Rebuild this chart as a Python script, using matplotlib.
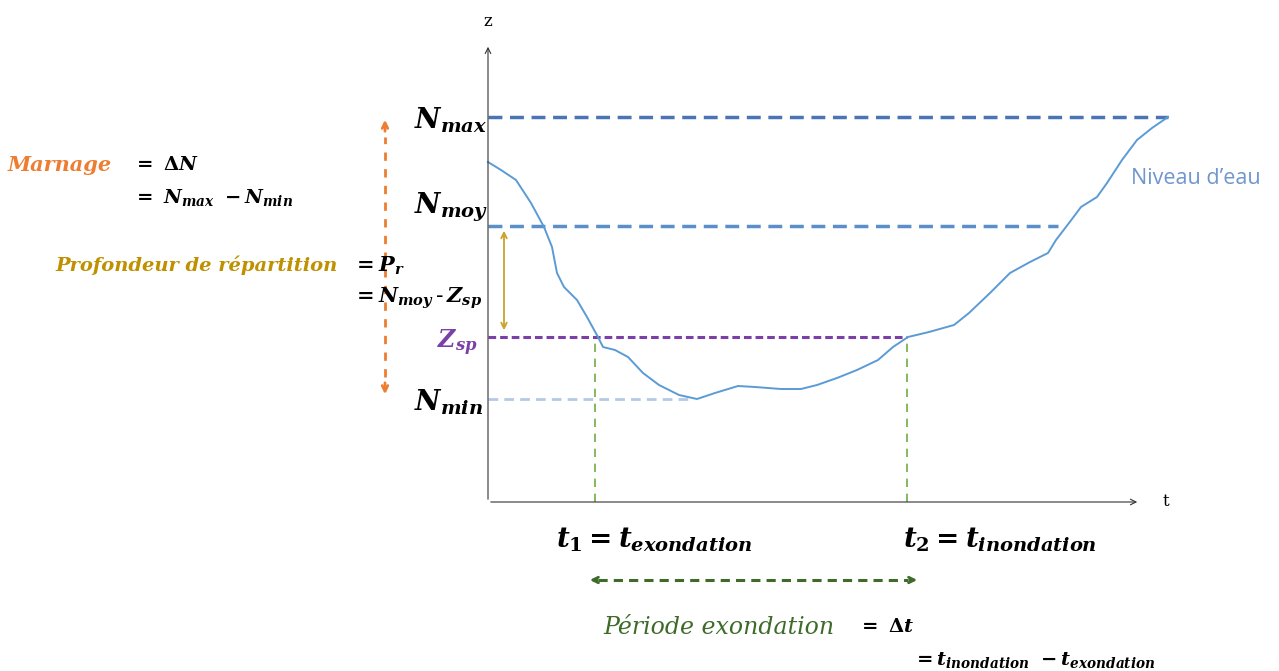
import numpy as np
import matplotlib.pyplot as plt

plt.rcParams['mathtext.fontset'] = 'custom'
plt.rcParams['mathtext.rm'] = 'DejaVu Serif:bold'
plt.rcParams['mathtext.it'] = 'DejaVu Serif:italic:bold'
plt.rcParams['mathtext.bf'] = 'DejaVu Serif:bold'

# water level curve (t, z) - origin at the axes crossing
t_curve = [0, 13, 28, 43, 56, 64, 69, 76, 89, 99, 110, 115, 127, 140, 155, 171, 191,
           209, 227, 250, 267, 293, 313, 329, 349, 369, 390, 405, 420, 441, 466,
           481, 502, 522, 542, 560, 568, 581, 593, 609, 619, 634, 649, 664, 680]
z_curve = [340, 332, 322, 299, 275, 255, 229, 215, 202, 185, 165, 155, 152, 145, 129,
           117, 107, 103, 109, 116, 115, 113, 113, 117, 124, 132, 142, 155, 165, 170,
           177, 189, 209, 229, 240, 249, 262, 279, 295, 305, 319, 342, 362, 374, 385]

# reference levels
N_max = 385
N_moy = 276
Z_sp = 165
N_min = 103
t1 = 107
t2 = 419

fig = plt.figure(figsize=(12.79, 6.71), dpi=100)
ax = fig.add_axes([0, 0, 1, 1])
ax.set_xlim(-488, 791)
ax.set_ylim(-169, 502)
ax.axis('off')

# axes arrows
ax.annotate('', xy=(0, 458), xytext=(0, 0),
            arrowprops=dict(arrowstyle='->', lw=0.8, color='#333333'))
ax.annotate('', xy=(652, 0), xytext=(0, 0),
            arrowprops=dict(arrowstyle='->', lw=0.8, color='#333333'))
ax.text(0, 480, 'z', ha='center', va='center', fontsize=12, family='DejaVu Serif')
ax.text(675, 0, 't', ha='left', va='center', fontsize=12, family='DejaVu Serif')

# horizontal reference levels
ax.plot([0, 680], [N_max, N_max], color='#4a74b4', lw=2.5, dashes=(4, 2.2))
ax.plot([0, 570], [N_moy, N_moy], color='#5b8fc9', lw=2.5, dashes=(4, 2.2))
ax.plot([0, 419], [Z_sp, Z_sp], color='#7b3fa8', lw=2.2, dashes=(2.5, 1.3))
ax.plot([0, 202], [N_min, N_min], color='#b4c9e8', lw=2.0, dashes=(3.5, 2.2))

# green verticals at t1 and t2
ax.plot([t1, t1], [0, Z_sp], color='#70ad47', lw=1.2, dashes=(5, 4))
ax.plot([t2, t2], [0, Z_sp], color='#70ad47', lw=1.2, dashes=(5, 4))

# water level
ax.plot(t_curve, z_curve, color='#5b9bd5', lw=1.4)
ax.text(643, 324, "Niveau d\u2019eau", color='#6f96cf', fontsize=15.5,
        family='Open Sans', ha='left', va='center')

# level labels
ax.text(-74, 382, r'$N_{max}$', fontsize=20, ha='left', va='center')
ax.text(-74, 295, r'$N_{moy}$', fontsize=20, ha='left', va='center')
ax.text(-51, 159, r'$Z_{sp}$', fontsize=17, ha='left', va='center', color='#7b3fa8')
ax.text(-74, 100, r'$N_{min}$', fontsize=20, ha='left', va='center')

# marnage
ax.plot([-103, -103], [125, 365], color='#ed7d31', lw=2, dashes=(3, 3))
ax.annotate('', xy=(-103, 385), xytext=(-103, 368),
            arrowprops=dict(arrowstyle='->', lw=2, color='#ed7d31'))
ax.annotate('', xy=(-103, 105), xytext=(-103, 122),
            arrowprops=dict(arrowstyle='->', lw=2, color='#ed7d31'))
ax.text(-480, 337, 'Marnage', color='#ed7d31', fontsize=15, family='DejaVu Serif',
        style='italic', weight='bold', ha='left', va='center')
ax.text(-356, 337, r'$=\ \Delta N$', fontsize=14, ha='left', va='center')
ax.text(-356, 304, r'$=\ N_{max}\ -N_{min}$', fontsize=14, ha='left', va='center')

# profondeur de repartition
ax.annotate('', xy=(16, 274), xytext=(16, 169),
            arrowprops=dict(arrowstyle='<->', lw=1.3, color='#c9a227'))
ax.text(-150, 237, 'Profondeur de r\u00e9partition', color='#bf9000', fontsize=14,
        family='DejaVu Serif', style='italic', weight='bold', ha='right', va='center')
ax.text(-136, 236, r'$=P_r$', fontsize=15, ha='left', va='center')
ax.text(-136, 204, r'$=N_{moy}\,$-$\,Z_{sp}$', fontsize=15, ha='left', va='center')

# t1 / t2 labels
ax.text(68, -38, r'$t_1 = t_{exondation}$', fontsize=20, ha='left', va='center')
ax.text(415, -38, r'$t_2 = t_{inondation}$', fontsize=20, ha='left', va='center')

# periode exondation
ax.plot([110, 420], [-78, -78], color='#3e6b2a', lw=2.2, dashes=(3, 2))
ax.annotate('', xy=(99, -78), xytext=(112, -78),
            arrowprops=dict(arrowstyle='->', lw=2, color='#3e6b2a'))
ax.annotate('', xy=(432, -78), xytext=(419, -78),
            arrowprops=dict(arrowstyle='->', lw=2, color='#3e6b2a'))
ax.text(115, -125, 'P\u00e9riode exondation', color='#3e6b2a', fontsize=17,
        family='DejaVu Serif', style='italic', ha='left', va='center')
ax.text(369, -125, r'$=\ \Delta t$', fontsize=14, ha='left', va='center')
ax.text(424, -158, r'$=t_{inondation}\ -t_{exondation}$', fontsize=14,
        ha='left', va='center')

fig.savefig('out.png', dpi=100, facecolor='white')
